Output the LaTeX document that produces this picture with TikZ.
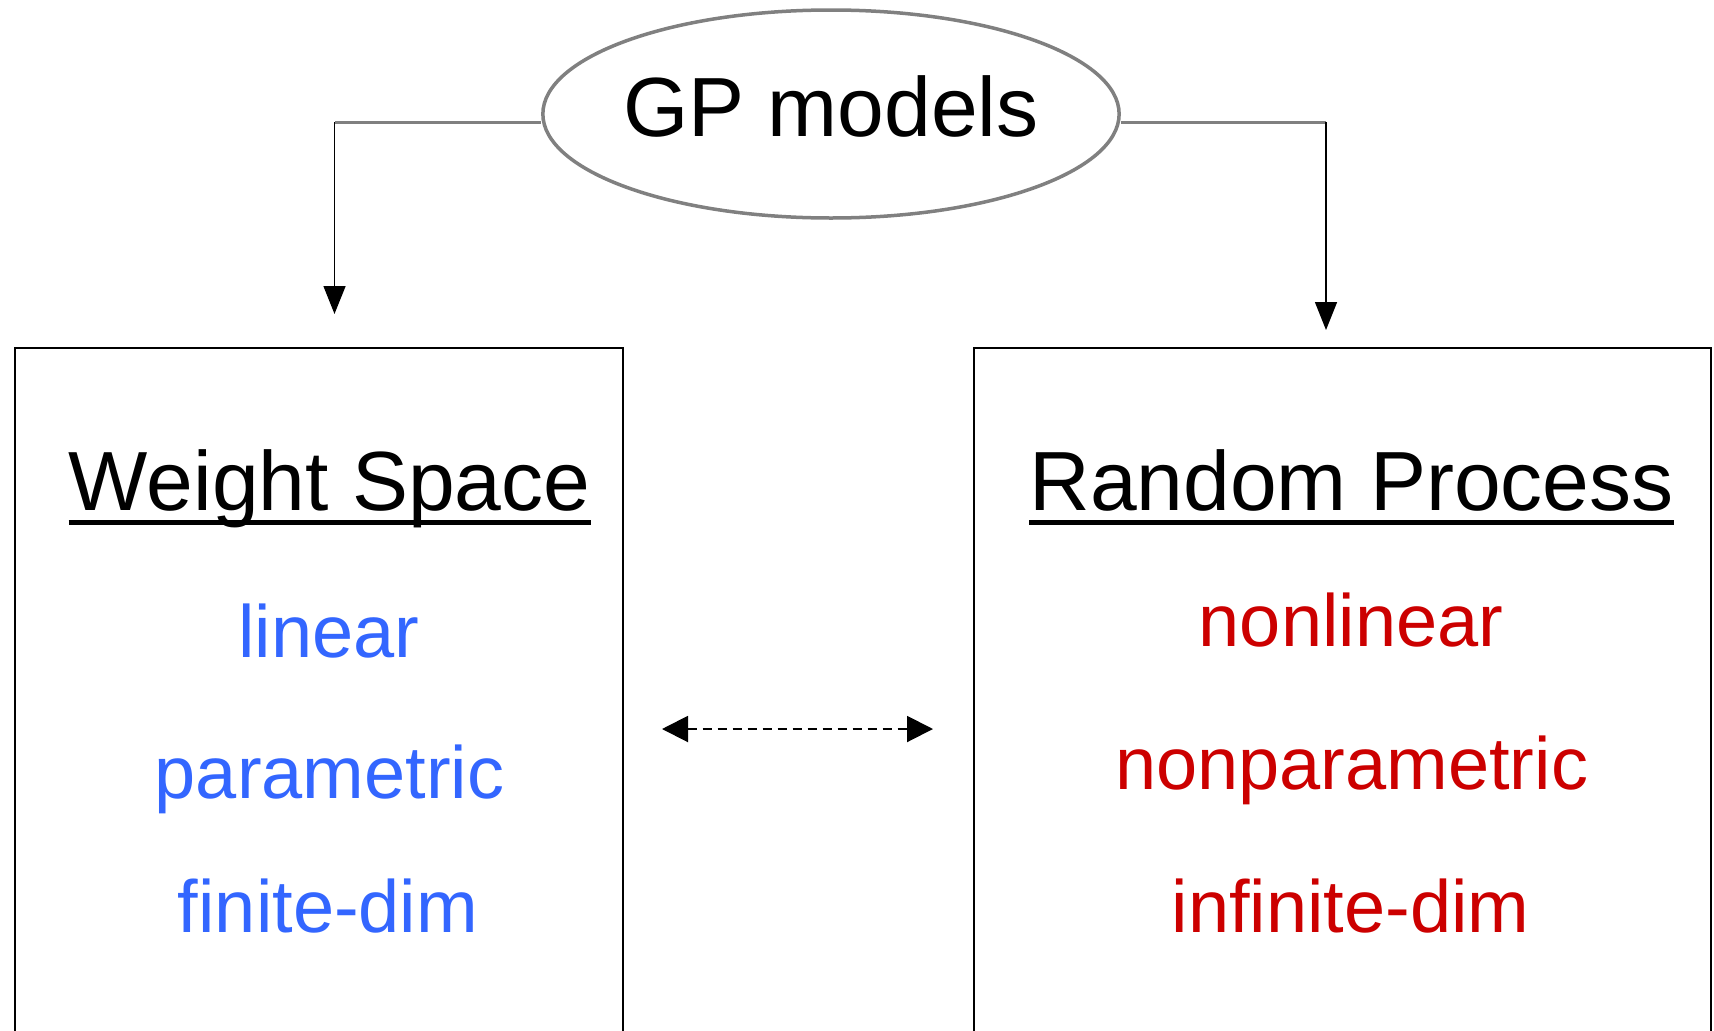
\documentclass[tikz,border=0pt]{standalone}
\usepackage{fontspec}
\setmainfont{Liberation Sans}
\usetikzlibrary{shapes.geometric,arrows.meta}
\definecolor{wsblue}{RGB}{51,102,255}
\definecolor{rpred}{RGB}{204,0,0}
\definecolor{ovalgray}{RGB}{128,128,128}
\begin{document}
\begin{tikzpicture}[x=1pt,y=-1pt,
  oval/.style={ellipse, draw=ovalgray, line width=3.5pt, inner ysep=0pt, inner xsep=-4pt,
    minimum width=576pt, minimum height=208pt,
    font=\fontsize{84}{90}\selectfont, text height=61pt, text depth=16pt},
  panel/.style={rectangle, inner sep=0pt, minimum height=700pt, anchor=north west},
  title/.style={anchor=base, inner sep=0pt, font=\fontsize{84}{90}\selectfont},
  item/.style={anchor=base, inner sep=0pt, font=\fontsize{74}{80}\selectfont},
  feed/.style={ovalgray, line width=3pt},
  drop/.style={black, line width=1.5pt, -{Triangle[length=28pt,width=22pt]}},
  link/.style={black, line width=2pt, dashed, dash pattern=on 9pt off 6pt,
    {Triangle[length=26pt,width=26pt]}-{Triangle[length=26pt,width=26pt]}},
  frame/.style={black, line width=2pt}]
\path[use as bounding box, clip] (0,0) rectangle (1714,1031);
\fill[white] (0,0) rectangle (1714,1031);

% top oval
\node[oval] (gp) at (831,114) {GP models};

% panels
\node[panel, minimum width=608pt] (wbox) at (15,348) {};
\node[panel, minimum width=737pt] (rbox) at (974,348) {};
\draw[frame] (wbox.south west) -- (wbox.north west) -- (wbox.north east) -- (wbox.south east);
\draw[frame] (rbox.south west) -- (rbox.north west) -- (rbox.north east) -- (rbox.south east);

% connectors from oval
\coordinate (lbend) at (334.5,122);
\coordinate (ltip) at (334.5,314);
\coordinate (rbend) at (1326,122);
\coordinate (rtip) at (1326,330);
\draw[feed] (gp.west |- lbend) -- (lbend);
\draw[feed] (gp.east |- rbend) -- (rbend);
\draw[drop] (lbend) -- (ltip);
\draw[drop] (rbend) -- (rtip);

% titles
\node[title] (ws) at (329.6,510) {Weight Space};
\node[title] (rp) at (1351.6,510) {Random Process};
\draw[line width=5.5pt] ([yshift=-12.5pt]ws.base west) -- ([yshift=-12.5pt]ws.base east);
\draw[line width=5.5pt] ([yshift=-12.5pt]rp.base west) -- ([yshift=-12.5pt]rp.base east);

% left items
\node[item, text=wsblue] (lin) at (329,657) {linear};
\node[item, text=wsblue] (par) at (329.6,798) {parametric};
\node[item, text=wsblue] (fin) at (328,932) {finite-dim};

% right items
\node[item, text=rpred] (nlin) at (1351,646) {nonlinear};
\node[item, text=rpred] (npar) at (1351.6,789) {nonparametric};
\node[item, text=rpred] (inf) at (1350.5,932) {infinite-dim};

% dashed link
\coordinate (dl) at (662,729);
\coordinate (dr) at (933,729);
\draw[link] (dl) -- (dr);
\end{tikzpicture}
\end{document}
